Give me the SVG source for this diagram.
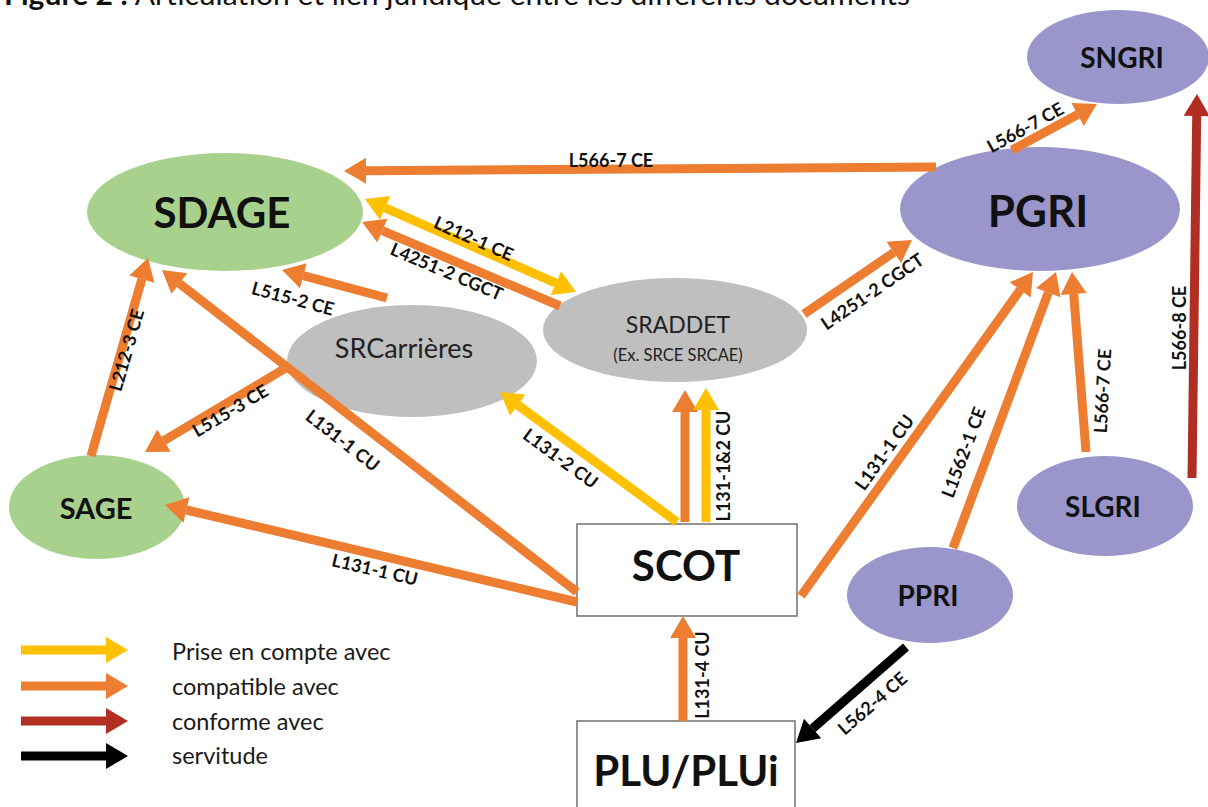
<svg xmlns="http://www.w3.org/2000/svg" width="1208" height="807" viewBox="0 0 1208 807">
<style>
  .n{font-family:Lato,"Open Sans","Liberation Sans",sans-serif;font-weight:700;fill:#111;text-anchor:middle;dominant-baseline:central}
  .r{font-family:Lato,"Open Sans","Liberation Sans",sans-serif;fill:#222;text-anchor:middle;dominant-baseline:central}
  .lb{font-family:Lato,"Open Sans","Liberation Sans",sans-serif;font-weight:700;font-size:18px;fill:#111;text-anchor:middle;dominant-baseline:central}
  .lg{font-family:Lato,"Open Sans","Liberation Sans",sans-serif;font-size:23.5px;fill:#1a1a1a}
  .o{stroke:#ED7D31;stroke-width:9;fill:none;marker-end:url(#ho)}
  .y{stroke:#FFC000;stroke-width:9;fill:none;marker-end:url(#hy)}
  .d{stroke:#B02E22;stroke-width:9;fill:none;marker-end:url(#hd)}
  .k{stroke:#000;stroke-width:9;fill:none;marker-end:url(#hk)}
  .green{fill:#A9D18E}
  .purple{fill:#9A96CC}
  .gray{fill:#BFBFBF}
  .box{fill:#fff;stroke:#707070;stroke-width:1.5}
</style>
<defs>
  <marker id="ho" markerUnits="userSpaceOnUse" markerWidth="24" markerHeight="28" refX="0" refY="14" orient="auto-start-reverse" overflow="visible"><path d="M0,1 L22,14 L0,27 Z" fill="#ED7D31"/></marker>
  <marker id="hy" markerUnits="userSpaceOnUse" markerWidth="24" markerHeight="28" refX="0" refY="14" orient="auto-start-reverse" overflow="visible"><path d="M0,1 L22,14 L0,27 Z" fill="#FFC000"/></marker>
  <marker id="hd" markerUnits="userSpaceOnUse" markerWidth="24" markerHeight="28" refX="0" refY="14" orient="auto-start-reverse" overflow="visible"><path d="M0,1 L22,14 L0,27 Z" fill="#B02E22"/></marker>
  <marker id="hk" markerUnits="userSpaceOnUse" markerWidth="24" markerHeight="28" refX="0" refY="14" orient="auto-start-reverse" overflow="visible"><path d="M0,1 L22,14 L0,27 Z" fill="#000"/></marker>
</defs>
<rect width="1208" height="807" fill="#fff"/>
<text x="4" y="5" font-family="Lato,'Open Sans',sans-serif" font-size="28" fill="#111" textLength="906" lengthAdjust="spacingAndGlyphs"><tspan font-weight="700">Figure 2 :</tspan> Articulation et lien juridique entre les différents documents</text>

<g id="SDAGE"><ellipse class="green" cx="225" cy="212" rx="138" ry="59"/><text class="n" x="222" y="212" font-size="42">SDAGE</text></g>
<g id="PGRI"><ellipse class="purple" cx="1040" cy="209" rx="140" ry="62"/><text class="n" x="1038" y="210" font-size="44">PGRI</text></g>
<g id="SNGRI"><ellipse class="purple" cx="1118" cy="57" rx="91" ry="47"/><text class="n" x="1122" y="57" font-size="28">SNGRI</text></g>
<g id="SRADDET"><ellipse class="gray" cx="675" cy="330" rx="132" ry="52"/><text class="r" x="678" y="324" font-size="23">SRADDET</text><text class="r" x="678" y="355" font-size="16.5">(Ex. SRCE SRCAE)</text></g>
<g id="SRCarrieres"><ellipse class="gray" cx="412" cy="361" rx="125" ry="56"/><text class="r" x="404" y="347" font-size="27">SRCarrières</text></g>
<g id="SAGE"><ellipse class="green" cx="97" cy="507" rx="88" ry="52"/><text class="n" x="96" y="507" font-size="29">SAGE</text></g>
<g id="SLGRI"><ellipse class="purple" cx="1105" cy="506" rx="88" ry="50"/><text class="n" x="1103" y="506" font-size="28">SLGRI</text></g>
<g id="PPRI"><ellipse class="purple" cx="930" cy="595" rx="83" ry="48"/><text class="n" x="928" y="595" font-size="28">PPRI</text></g>
<g id="SCOT"><rect class="box" x="577" y="524" width="220" height="92"/><text class="n" x="686" y="565" font-size="42">SCOT</text></g>
<g id="PLU"><rect class="box" x="577" y="721" width="218" height="100"/><text class="n" x="686" y="770" font-size="42">PLU/PLUi</text></g>

<g id="connectors">
  <line class="o" x1="936" y1="167" x2="366" y2="170.8"/>
  <line class="o" x1="1012" y1="150" x2="1077.6" y2="114.5"/>
  <line class="d" x1="1192" y1="478" x2="1196.7" y2="116"/>
  <line class="o" x1="1086" y1="452" x2="1073.7" y2="293.9"/>
  <line class="o" x1="953" y1="548" x2="1048.3" y2="292.6"/>
  <line class="o" x1="801" y1="596" x2="1020.2" y2="289.9"/>
  <line class="o" x1="804" y1="314" x2="893.8" y2="252.4"/>
  <line class="o" x1="560" y1="306" x2="382.3" y2="230.6"/>
  <line class="y" x1="385.1" y1="207.9" x2="555.9" y2="283.1" style="marker-start:url(#hy)"/>
  <line class="o" x1="387" y1="298" x2="303.3" y2="275.7"/>
  <line class="o" x1="91" y1="456" x2="141.9" y2="279.1"/>
  <line class="o" x1="577" y1="592" x2="179.4" y2="283.5"/>
  <line class="o" x1="289" y1="366" x2="163.9" y2="440.7"/>
  <line class="o" x1="577" y1="602" x2="186.4" y2="510"/>
  <line class="y" x1="677" y1="522" x2="517.7" y2="405"/>
  <line class="o" x1="685" y1="522" x2="685" y2="412"/>
  <line class="y" x1="706" y1="522" x2="706" y2="410"/>
  <line class="o" x1="683" y1="721" x2="683" y2="638"/>
  <line class="k" x1="906" y1="647" x2="812.6" y2="728.5"/>
</g>

<g id="labels">
  <text class="lb" x="611" y="160">L566-7 CE</text>
  <text class="lb" transform="translate(1025,127) rotate(-29)">L566-7 CE</text>
  <text class="lb" transform="translate(1179,328) rotate(-90)">L566-8 CE</text>
  <text class="lb" transform="translate(1102,391) rotate(-87)">L566-7 CE</text>
  <text class="lb" transform="translate(963,452) rotate(-69.5)">L1562-1 CE</text>
  <text class="lb" transform="translate(884,452) rotate(-54.4)">L131-1 CU</text>
  <text class="lb" transform="translate(872,291) rotate(-34.4)">L4251-2 CGCT</text>
  <text class="lb" transform="translate(447,271) rotate(23)">L4251-2 CGCT</text>
  <text class="lb" transform="translate(474,238) rotate(23.8)">L212-1 CE</text>
  <text class="lb" transform="translate(293,298) rotate(15)">L515-2 CE</text>
  <text class="lb" transform="translate(126,350) rotate(-74)">L212-3 CE</text>
  <text class="lb" transform="translate(343,440) rotate(37.8)">L131-1 CU</text>
  <text class="lb" transform="translate(230,410) rotate(-30.8)">L515-3 CE</text>
  <text class="lb" transform="translate(375,569) rotate(13)">L131-1 CU</text>
  <text class="lb" transform="translate(561,458) rotate(36.3)">L131-2 CU</text>
  <text class="lb" transform="translate(723,466) rotate(-90)">L131-1&amp;2 CU</text>
  <text class="lb" transform="translate(702,675) rotate(-90)">L131-4 CU</text>
  <text class="lb" transform="translate(872,703) rotate(-41)">L562-4 CE</text>
</g>

<g id="legend">
  <line class="y" x1="21" y1="650" x2="106" y2="650"/>
  <line class="o" x1="21" y1="686" x2="106" y2="686"/>
  <line class="d" x1="21" y1="721" x2="106" y2="721"/>
  <line class="k" x1="21" y1="756" x2="106" y2="756"/>
  <text class="lg" x="172" y="660">Prise en compte avec</text>
  <text class="lg" x="172" y="695">compatible avec</text>
  <text class="lg" x="172" y="730">conforme avec</text>
  <text class="lg" x="172" y="764">servitude</text>
</g>
</svg>
